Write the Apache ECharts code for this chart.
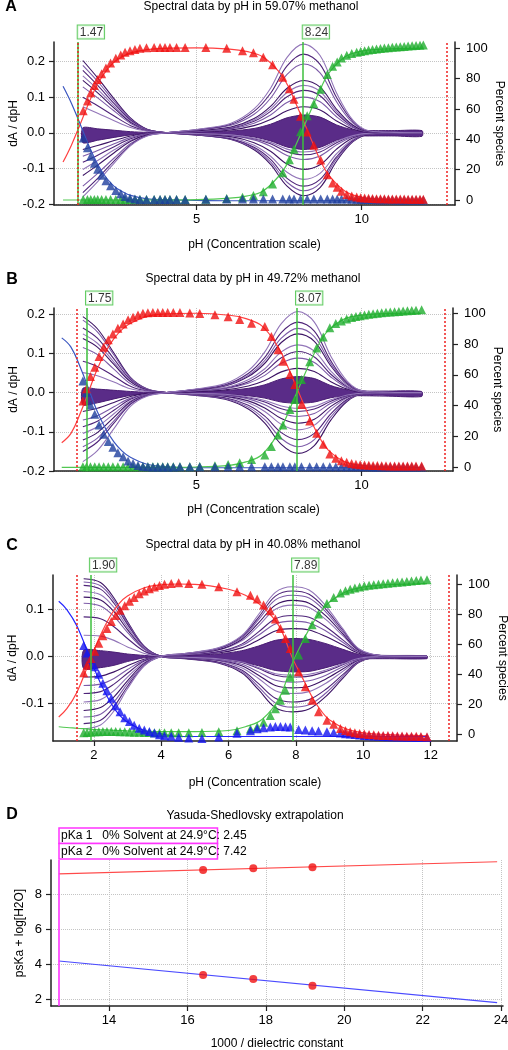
<!DOCTYPE html>
<html><head><meta charset="utf-8">
<script src="https://cdn.jsdelivr.net/npm/echarts@6/dist/echarts.min.js"></script>
<style>html,body{margin:0;padding:0;background:#fff}#c{width:508px;height:1050px}</style>
</head><body><div id="c"></div>
<script>
// ---------------- Panel A (59.07% methanol) ----------------
const titleA = 'Spectral data by pH in 59.07% methanol';
const pkaTextA = ['1.47', '8.24'];
const pkaLineA = [1.41, 8.23];
const limitLineA = [1.40, 12.58];
const specPhA = [1.55,2.0,2.5,3.0,3.5,4.1,5.04,6.04,6.74,7.24,7.74,8.24,8.74,9.24,9.74,10.24,10.99,11.83];
const specA = [
 [0.203,0.154,0.095,0.041,0.010,0,-0.007,-0.019,-0.048,-0.089,-0.150,-0.177,-0.154,-0.080,-0.025,-0.004,-0.001,0],
 [0.189,0.144,0.089,0.038,0.009,0,-0.007,-0.018,-0.044,-0.082,-0.139,-0.163,-0.142,-0.073,-0.023,-0.003,-0.001,0],
 [0.175,0.133,0.082,0.035,0.009,0,-0.006,-0.017,-0.041,-0.075,-0.128,-0.150,-0.131,-0.068,-0.021,-0.003,-0.001,0],
 [0.160,0.122,0.075,0.032,0.008,0,-0.005,-0.014,-0.035,-0.066,-0.111,-0.131,-0.114,-0.059,-0.018,-0.003,-0.001,0],
 [0.147,0.112,0.069,0.029,0.007,0,-0.004,-0.011,-0.028,-0.052,-0.088,-0.103,-0.090,-0.046,-0.014,-0.002,0,0],
 [0.129,0.098,0.061,0.026,0.006,0,-0.003,-0.008,-0.020,-0.038,-0.064,-0.075,-0.065,-0.034,-0.011,-0.002,0,0],
 [0.100,0.076,0.047,0.020,0.005,0,-0.002,-0.007,-0.017,-0.031,-0.053,-0.062,-0.054,-0.028,-0.009,-0.001,0,0],
 [0.073,0.055,0.034,0.015,0.004,0,-0.002,-0.006,-0.015,-0.027,-0.046,-0.054,-0.047,-0.024,-0.008,-0.001,0,0],
 [-0.047,-0.036,-0.022,-0.009,-0.002,0,0.003,0.008,0.020,0.037,0.062,0.073,0.064,0.033,0.010,0.001,0,0],
 [-0.066,-0.050,-0.031,-0.013,-0.003,0,0.004,0.011,0.027,0.050,0.085,0.100,0.087,0.045,0.014,0.002,0,0],
 [-0.083,-0.063,-0.039,-0.017,-0.004,0,0.005,0.013,0.032,0.060,0.101,0.119,0.104,0.054,0.017,0.002,0,0],
 [-0.103,-0.078,-0.048,-0.021,-0.005,0,0.005,0.015,0.036,0.067,0.113,0.133,0.116,0.060,0.019,0.003,0.001,0],
 [-0.120,-0.091,-0.056,-0.024,-0.006,0,0.006,0.016,0.040,0.074,0.125,0.147,0.128,0.066,0.021,0.003,0.001,0],
 [-0.150,-0.114,-0.071,-0.030,-0.008,0,0.008,0.021,0.052,0.097,0.164,0.193,0.168,0.087,0.027,0.004,0.001,0],
 [-0.168,-0.128,-0.079,-0.034,-0.008,0,0.009,0.024,0.060,0.111,0.188,0.221,0.192,0.099,0.031,0.004,0.001,0],
 [-0.180,-0.137,-0.085,-0.036,-0.009,0,0.010,0.027,0.067,0.125,0.212,0.249,0.217,0.112,0.035,0.005,0.001,0]
];
const bandUpA = [0.014,0.011,0.007,0.003,0.001,0,0.002,0.005,0.012,0.024,0.042,0.050,0.044,0.022,0.008,0.006,0.006,0.006];
const bandLoA = [-0.028,-0.021,-0.013,-0.006,-0.002,0,-0.002,-0.005,-0.012,-0.023,-0.040,-0.047,-0.041,-0.021,-0.010,-0.009,-0.009,-0.010];
const phA = [1.56,1.69,1.79,1.90,2.00,2.12,2.25,2.39,2.55,2.70,
 2.83,2.98,3.13,3.28,3.48,3.71,3.89,4.04,4.19,4.39,
 4.65,5.28,5.91,6.39,6.72,7.02,7.30,7.61,7.81,7.95,
 8.15,8.35,8.55,8.76,8.96,9.12,9.26,9.39,9.55,9.70,
 9.85,9.97,10.09,10.21,10.33,10.45,10.57,10.69,10.81,10.93,
 11.05,11.17,11.29,11.41,11.53,11.65,11.77,11.87];
const redA = [58.8,65.3,70.8,75.5,79.4,83.3,87.0,90.3,93.5,95.6,
 97.4,98.4,99.3,100.0,100.4,100.6,100.6,100.6,100.6,100.6,
 100.6,100.6,100.0,98.4,97.1,94.1,89.2,80.9,73.4,66.4,
 55.2,44.8,36.1,26.4,16.6,11.2,8.4,5.8,3.6,2.6,
 1.9,1.5,1.3,1.1,1.0,0.9,0.8,0.8,0.7,0.7,
 0.6,0.6,0.6,0.5,0.5,0.5,0.5,0.5];
const greenA = [0.3,0.3,0.3,0.3,0.3,0.3,0.3,0.3,0.3,0.3,
 0.3,0.3,0.3,0.3,0.3,0.3,0.3,0.3,0.3,0.3,
 0.3,0.5,1.0,1.8,3.0,5.5,10.5,18,26.5,33.5,
 45,55.5,63.5,73,82.8,88.2,91,93.6,95.5,96.6,
 97.5,98.0,98.5,99.0,99.3,99.6,99.9,100.2,100.4,100.7,
 100.9,101.1,101.3,101.5,101.7,101.9,102.1,102.3];
const blueA = [40.9,34.4,28.9,24.2,20.3,16.4,12.7,9.4,6.2,4.1,
 2.3,1.3,0.7,0.4,0.3,0.3,0.3,0.3,0.3,0.3,
 0.3,0.5,0.6,0.6,0.6,0.6,0.6,0.6,0.6,0.6,
 0.6,0.6,0.6,0.6,0.6,0.6,0.6,0.6,0.6,0.5,
 0.5,0.4,0.4,0.3,0.3,0.2,0.2,0.1,0.1,0.1,
 0,0,0,0,0,0,0,0];
const fitPhA = [0.95,1.2,1.47,1.75,2.0,2.25,2.5,2.75,3.0,3.5,4.0,5.0,6.0,6.5,7.0,7.5,7.75,8.0,8.24,8.5,8.75,9.0,9.5,10.0,10.5,11.0,11.87];
const redFitA = [25,36,50,65,76.5,85,91,94.5,97,99.2,100,100.3,99.5,98,94.5,84.5,76,64,52,38.5,26,16.5,5.8,1.8,0.6,0.2,0];
const blueFitA = [75,64,50,35,23.5,15,9,5.5,3,0.8,0.2,-0.3,-0.5,-0.5,-0.5,-0.5,-0.5,-0.5,-0.5,-0.5,-0.5,-0.5,-0.5,-0.5,-0.5,-0.5,-0.5];
const greenFitA = [0,0,0,0,0,0,0,0,0,0,0,0.2,1.2,2.6,5.8,16,24,36,48,61,73,83.5,94.5,98.2,99.4,99.8,100];

// ---------------- Panel B (49.72% methanol) ----------------
const titleB = 'Spectral data by pH in 49.72% methanol';
const pkaTextB = ['1.75', '8.07'];
const pkaLineB = [1.67, 8.03];
const limitLineB = [1.39, 12.52];
const specPhB = [1.56,2.0,2.5,3.0,3.5,4.1,4.87,5.87,6.57,7.07,7.57,8.07,8.57,9.07,9.57,10.07,10.82,11.82];
const specB = [
 [0.194,0.163,0.101,0.039,0.010,0,-0.006,-0.017,-0.042,-0.078,-0.132,-0.155,-0.135,-0.070,-0.022,-0.003,-0.001,0],
 [0.185,0.155,0.096,0.037,0.009,0,-0.006,-0.015,-0.037,-0.069,-0.117,-0.138,-0.120,-0.062,-0.019,-0.003,-0.001,0],
 [0.165,0.139,0.086,0.033,0.008,0,-0.005,-0.013,-0.032,-0.060,-0.102,-0.120,-0.104,-0.054,-0.017,-0.002,0,0],
 [0.150,0.126,0.078,0.030,0.008,0,-0.004,-0.010,-0.026,-0.048,-0.081,-0.095,-0.083,-0.043,-0.013,-0.002,0,0],
 [0.138,0.116,0.072,0.028,0.007,0,-0.003,-0.009,-0.021,-0.039,-0.066,-0.078,-0.068,-0.035,-0.011,-0.002,0,0],
 [0.115,0.097,0.060,0.023,0.006,0,-0.002,-0.007,-0.016,-0.031,-0.052,-0.061,-0.053,-0.027,-0.009,-0.001,0,0],
 [0.080,0.067,0.042,0.016,0.004,0,-0.002,-0.005,-0.013,-0.024,-0.041,-0.048,-0.042,-0.022,-0.007,-0.001,0,0],
 [0.051,0.043,0.027,0.010,0.003,0,-0.002,-0.004,-0.011,-0.020,-0.034,-0.040,-0.035,-0.018,-0.006,-0.001,0,0],
 [-0.048,-0.040,-0.025,-0.010,-0.002,0,0.002,0.007,0.017,0.031,0.053,0.062,0.054,0.028,0.009,0.001,0,0],
 [-0.070,-0.059,-0.036,-0.014,-0.004,0,0.004,0.010,0.024,0.044,0.075,0.088,0.077,0.040,0.012,0.002,0,0],
 [-0.087,-0.073,-0.045,-0.017,-0.004,0,0.004,0.012,0.028,0.053,0.089,0.105,0.091,0.047,0.015,0.002,0,0],
 [-0.104,-0.087,-0.054,-0.021,-0.005,0,0.005,0.013,0.033,0.061,0.104,0.122,0.106,0.055,0.017,0.002,0,0],
 [-0.121,-0.102,-0.063,-0.024,-0.006,0,0.006,0.017,0.041,0.075,0.128,0.150,0.131,0.068,0.021,0.003,0.001,0],
 [-0.138,-0.116,-0.072,-0.028,-0.007,0,0.007,0.018,0.044,0.082,0.139,0.164,0.143,0.074,0.023,0.003,0.001,0],
 [-0.150,-0.126,-0.078,-0.030,-0.008,0,0.007,0.020,0.049,0.090,0.153,0.180,0.157,0.081,0.025,0.004,0.001,0],
 [-0.176,-0.148,-0.092,-0.035,-0.009,0,0.008,0.023,0.056,0.104,0.176,0.207,0.180,0.093,0.029,0.004,0.001,0]
];
const bandUpB = [0.011,0.009,0.006,0.003,0.001,0,0.002,0.005,0.011,0.020,0.035,0.041,0.036,0.018,0.007,0.004,0.004,0.003];
const bandLoB = [-0.031,-0.026,-0.016,-0.007,-0.002,0,-0.002,-0.004,-0.008,-0.014,-0.024,-0.027,-0.024,-0.013,-0.008,-0.008,-0.009,-0.010];
const phB = [1.56,1.67,1.79,1.92,2.05,2.19,2.33,2.47,2.62,2.78,
 2.93,3.08,3.23,3.38,3.53,3.68,3.83,3.98,4.13,4.30,
 4.50,4.80,5.10,5.56,5.96,6.31,6.67,7.07,7.27,7.47,
 7.62,7.83,7.98,8.18,8.43,8.64,8.84,9.04,9.22,9.39,
 9.55,9.70,9.83,9.96,10.09,10.22,10.35,10.48,10.61,10.74,
 10.87,11.00,11.13,11.26,11.39,11.52,11.65,11.82];
const redB = [43,51,59,65,72,78,82.8,86.6,90.3,93,
 95.7,97.4,98.9,100,100.3,100.5,100.5,100.5,100.5,100.5,
 100.4,100.2,99.8,99,97.8,96,93.5,91.4,84.9,76.3,
 68.8,60.2,53.7,40.8,30,22.1,15,8.6,5.8,4.3,
 3.2,2.5,2.0,1.7,1.5,1.3,1.2,1.1,1.0,1.0,
 0.9,0.9,0.9,0.8,0.8,0.8,0.8,0.8];
const greenB = [0.3,0.3,0.3,0.3,0.3,0.3,0.3,0.3,0.3,0.3,
 0.3,0.3,0.3,0.3,0.3,0.3,0.3,0.3,0.3,0.3,
 0.3,0.4,0.6,1.0,1.8,3.0,5.0,8.0,13.5,21,
 27.5,37.5,44,57,68.5,77.5,84.5,90.5,93.3,95,
 96.3,97.2,97.9,98.4,98.9,99.3,99.7,100,100.3,100.6,
 100.8,101,101.2,101.4,101.6,101.8,102,102.2];
const blueB = [56,48.5,40.5,34.5,27.5,21.5,16.8,13,9.4,6.8,
 4.1,2.5,1.2,0.5,0.3,0.2,0.2,0.2,0.2,0.2,
 0.3,0.3,0.4,0.4,0.4,0.4,0.4,0.4,0.4,0.4,
 0.4,0.4,0.4,0.4,0.4,0.4,0.4,0.4,0.4,0.4,
 0.4,0.4,0.3,0.3,0.3,0.3,0.2,0.2,0.2,0.2,
 0.2,0.2,0.2,0.2,0.2,0.2,0.2,0.2];
const fitPhB = [0.92,1.2,1.5,1.75,2.0,2.25,2.5,2.75,3.0,3.5,4.0,5.0,6.0,6.5,7.0,7.5,7.75,8.07,8.25,8.5,8.75,9.0,9.5,10.0,10.5,11.0,11.82];
const redFitB = [16,22,36,50,64,75,83.5,89.5,93.5,98,99.5,100,98.7,96.5,91.5,77,66,50,41,29,18.5,11,3.5,1.2,0.4,0.1,0];
const blueFitB = [84,78,64,50,36,25,16.5,10.5,6.5,2,0.5,-0.3,-0.3,-0.3,-0.3,-0.3,-0.3,-0.3,-0.3,-0.3,-0.3,-0.3,-0.3,-0.3,-0.3,-0.3,-0.3];
const greenFitB = [0,0,0,0,0,0,0,0,0,0,0,0.2,1.3,3.5,8.5,23,34,50,59,71,81.5,89,96.5,98.8,99.6,99.9,100];

// ---------------- Panel C (40.08% methanol) ----------------
const titleC = 'Spectral data by pH in 40.08% methanol';
const pkaTextC = ['1.90', '7.89'];
const pkaLineC = [1.90, 7.90];
const limitLineC = [1.50, 12.53];
const specPhC = [1.7,2.2,2.6,3.0,3.5,4.0,4.69,5.69,6.39,6.89,7.39,7.89,8.39,8.89,9.39,9.89,10.64,11.89];
const specC = [
 [0.165,0.157,0.124,0.074,0.021,0,-0.005,-0.014,-0.035,-0.071,-0.109,-0.118,-0.112,-0.085,-0.047,-0.012,-0.001,0],
 [0.158,0.150,0.119,0.071,0.021,0,-0.004,-0.013,-0.032,-0.065,-0.099,-0.108,-0.103,-0.078,-0.043,-0.011,-0.001,0],
 [0.151,0.143,0.113,0.068,0.020,0,-0.004,-0.012,-0.029,-0.058,-0.089,-0.097,-0.092,-0.070,-0.039,-0.010,-0.001,0],
 [0.138,0.131,0.104,0.062,0.018,0,-0.003,-0.009,-0.024,-0.047,-0.073,-0.079,-0.075,-0.057,-0.032,-0.008,-0.001,0],
 [0.126,0.120,0.095,0.057,0.016,0,-0.003,-0.008,-0.020,-0.040,-0.062,-0.067,-0.064,-0.048,-0.027,-0.007,-0.001,0],
 [0.113,0.107,0.085,0.051,0.015,0,-0.002,-0.007,-0.017,-0.033,-0.051,-0.055,-0.052,-0.040,-0.022,-0.006,-0.001,0],
 [0.084,0.080,0.063,0.038,0.011,0,-0.002,-0.005,-0.013,-0.026,-0.040,-0.044,-0.042,-0.032,-0.018,-0.004,0,0],
 [0.045,0.043,0.034,0.020,0.006,0,-0.002,-0.005,-0.012,-0.024,-0.037,-0.040,-0.038,-0.029,-0.016,-0.004,0,0],
 [-0.044,-0.042,-0.033,-0.020,-0.006,0,0.002,0.007,0.018,0.035,0.054,0.059,0.056,0.042,0.024,0.006,0.001,0],
 [-0.062,-0.059,-0.047,-0.028,-0.008,0,0.003,0.009,0.023,0.045,0.069,0.075,0.071,0.054,0.030,0.008,0.001,0],
 [-0.079,-0.075,-0.059,-0.036,-0.010,0,0.003,0.010,0.026,0.052,0.080,0.087,0.083,0.063,0.035,0.009,0.001,0],
 [-0.097,-0.092,-0.073,-0.044,-0.013,0,0.004,0.013,0.033,0.065,0.100,0.109,0.104,0.078,0.044,0.011,0.001,0],
 [-0.115,-0.109,-0.086,-0.052,-0.015,0,0.005,0.014,0.036,0.071,0.109,0.119,0.113,0.086,0.048,0.012,0.001,0],
 [-0.129,-0.123,-0.097,-0.058,-0.017,0,0.005,0.016,0.039,0.078,0.120,0.130,0.124,0.094,0.052,0.013,0.001,0],
 [-0.143,-0.136,-0.107,-0.064,-0.019,0,0.006,0.017,0.042,0.083,0.128,0.139,0.132,0.100,0.056,0.014,0.001,0],
 [-0.154,-0.146,-0.116,-0.069,-0.020,0,0.006,0.018,0.044,0.089,0.136,0.148,0.141,0.107,0.059,0.015,0.001,0]
];
const bandUpC = [0.013,0.012,0.009,0.005,0.002,0,0.002,0.005,0.012,0.022,0.034,0.038,0.036,0.027,0.015,0.004,0.002,0.001];
const bandLoC = [-0.026,-0.024,-0.019,-0.011,-0.003,0,-0.002,-0.005,-0.012,-0.020,-0.030,-0.033,-0.032,-0.024,-0.014,-0.006,-0.005,-0.005];
const phC = [1.70,1.80,1.91,2.03,2.15,2.27,2.39,2.52,2.65,2.78,
 2.92,3.06,3.20,3.35,3.50,3.65,3.80,3.95,4.10,4.30,
 4.52,4.82,5.21,5.71,6.25,6.65,6.85,7.04,7.24,7.39,
 7.54,7.69,7.83,8.08,8.28,8.48,8.67,8.92,9.12,9.32,
 9.47,9.61,9.75,9.89,10.03,10.17,10.31,10.45,10.59,10.73,
 10.87,11.01,11.15,11.29,11.43,11.57,11.71,11.89];
const redC = [41,46,50.5,55.3,60.5,65.5,70.4,75,79,82.5,
 85.5,88.5,91,93.5,95.3,96.8,98,99,99.8,100.4,
 100.9,100.4,99.8,98.2,94.9,92.5,90,86,82.2,76.7,
 70.4,63.8,57.1,41.6,31.6,22.7,14.9,9.3,6.7,3.8,
 2.5,1.6,1.0,0.5,0.1,-0.2,-0.4,-0.6,-0.8,-0.9,
 -1.0,-1.1,-1.2,-1.3,-1.3,-1.4,-1.5,-1.6];
const greenC = [1.0,1.2,1.4,1.6,1.7,1.8,1.8,1.8,1.8,1.7,
 1.6,1.5,1.4,1.3,1.2,1.1,1.0,1.0,1.0,1.0,
 1.0,1.0,1.2,1.6,2.4,3.5,5.0,8.0,12.5,17,
 22.7,29.3,38,52.7,63.8,72.9,80,87,91,94,
 95.5,96.5,97.3,98,98.6,99.1,99.5,99.9,100.2,100.5,
 100.8,101.1,101.4,101.7,102,102.3,102.6,102.9];
const blueC = [59,54,50,45,40,34,29,24,19,15,
 11,8.5,6,4,2.8,1.8,0.8,-0.4,-1.0,-1.3,
 -2,-2.5,-2.8,-1.8,0.6,2.4,3.6,4.4,4.9,5.1,
 5.2,5.0,4.8,3.1,2.8,2.4,2.2,1.6,1.1,0.8,
 0.4,0.1,-0.2,-0.5,-0.8,-1.0,-1.2,-1.4,-1.5,-1.6,
 -1.7,-1.8,-1.9,-2.0,-2.0,-2.1,-2.1,-2.2];
const fitPhC = [0.96,1.2,1.5,1.9,2.2,2.5,2.75,3.0,3.5,4.0,4.5,5.0,6.0,6.5,7.0,7.5,7.89,8.25,8.5,8.75,9.0,9.5,10.0,10.5,11.0,11.5,11.89];
const redFitC = [11.5,17,28,50,66,79,87,92,97.5,99.5,100,99.8,96.5,92.5,85,72,51,35,24,15.5,9.5,3.5,1,0,-0.5,-0.8,-1];
const blueFitC = [88.5,83,72,50,34,21,13,8,2.5,0.3,-1.5,-1.5,-1.5,-1.5,-1.5,-1.5,-1.5,-1.5,-1.5,-1.5,-1.5,-1.5,-1.5,-1.5,-1.5,-1.5,-1.5];
const greenFitC = [5,4.5,4,3.3,3,2.7,2.5,2.3,2,1.8,1.8,1.8,2.5,5,10,24,47,64,74,82,88,95,98,99.3,99.8,100,100.2];

// ---------------- Panel D (Yasuda-Shedlovsky) ----------------
const titleD = 'Yasuda-Shedlovsky extrapolation';
const ysX = [16.40, 17.68, 19.19];
const ysPka1 = [3.37, 3.14, 2.76];
const ysPka2 = [9.37, 9.47, 9.52];
const ysFitX = [12.72, 23.9];
const ysFit1 = [4.17, 1.79];
const ysFit2 = [9.15, 9.84];
const ysZero = 12.72;
const ysLegend = ['pKa 1   0% Solvent at 24.9°C: 2.45', 'pKa 2   0% Solvent at 24.9°C: 7.42'];

// ---------------- Tick labels ----------------
const ticksPhAB = [5, 10];
const ticksPhC = [2, 4, 6, 8, 10, 12];
const ticksDAB = [-0.2, -0.1, 0, 0.1, 0.2];
const ticksDC = [-0.1, 0, 0.1];
const ticksPct = [0, 20, 40, 60, 80, 100];
const ticksDielX = [14, 16, 18, 20, 22, 24];
const ticksDielY = [2, 4, 6, 8];

// ================= build =================
const FONT = 'Liberation Sans, Arial, Helvetica, sans-serif';
const AX = '#222';
const PURPLES = ['#3d1465', '#7d5ba8', '#4f2479', '#9275b8'];
const zip = (xs, ys) => xs.map((x, i) => [x, ys[i]]);

function xAx(gi, min, max, ticks, name, gap) {
  return {type:'value', gridIndex:gi, min, max, name, nameLocation:'middle', nameGap:gap, nameMoveOverlap:false,
    nameTextStyle:{fontSize:12, color:'#000', fontFamily:FONT},
    axisLine:{show:true, onZero:false, lineStyle:{color:AX, width:1.5}},
    axisTick:{show:true, length:5, inside:false, customValues:ticks, lineStyle:{color:AX, width:1.2}},
    axisLabel:{show:true, customValues:ticks, fontSize:13, color:'#000', margin:8, fontFamily:FONT},
    splitLine:{show:true, lineStyle:{color:'#c4c4c4', type:'dotted', width:1}}};
}
function yAx(gi, pos, min, max, ticks, name, gap, rot, fmt, grid) {
  return {type:'value', gridIndex:gi, position:pos, min, max, name, nameLocation:'middle', nameGap:gap, nameRotate:rot,
    nameMoveOverlap:false,
    nameTextStyle:{fontSize:12, color:'#000', fontFamily:FONT},
    axisLine:{show:true, onZero:false, lineStyle:{color:AX, width:1.5}},
    axisTick:{show:true, length:5, inside:false, customValues:ticks, lineStyle:{color:AX, width:1.2}},
    axisLabel:{show:true, customValues:ticks, fontSize:13, color:'#000', margin:pos==='left'?9:11, fontFamily:FONT, formatter:fmt},
    splitLine:{show:grid, lineStyle:{color:'#c4c4c4', type:'dotted', width:1}}};
}
const f1 = v => (Math.abs(v) < 1e-9 ? 0 : v).toFixed(1);
const fi = v => String(Math.round(v));

function panel(xi, yl, yr, P) {
  const s = [];
  s.push({type:'custom', xAxisIndex:xi, yAxisIndex:yl, coordinateSystem:'cartesian2d', clip:true, silent:true, z:2,
    data:[[P.specPh[0], 0]],
    renderItem:(params, api) => {
      const pts = [];
      P.specPh.forEach((x, i) => pts.push(api.coord([x, P.up[i]])));
      for (let i = P.specPh.length - 1; i >= 0; i--) pts.push(api.coord([P.specPh[i], P.lo[i]]));
      return {type:'polygon', shape:{points:pts, smooth:0.25}, style:{fill:'#5a2c88', stroke:'#4a1d74', lineWidth:1}};
    }});
  P.spec.forEach((c, k) => s.push({type:'line', xAxisIndex:xi, yAxisIndex:yl, data:zip(P.specPh, c), smooth:0.35,
    symbol:'none', silent:true, z:2, lineStyle:{color:PURPLES[k % 4], width:1.1}}));
  const fit = (ys, col, ml) => {
    const o = {type:'line', xAxisIndex:xi, yAxisIndex:yr, data:zip(P.fitPh, ys), smooth:0.4, symbol:'none', silent:true, z:3,
      lineStyle:{color:col, width:1.2}};
    if (ml) o.markLine = ml;
    return o;
  };
  s.push(fit(P.redFit, '#ff4040', {silent:true, symbol:['none','none'], label:{show:false}, animation:false,
    data:[
      {xAxis:P.pkaLine[0], lineStyle:{color:'#3cbf3c', type:'solid', width:1.5}},
      {xAxis:P.pkaLine[1], lineStyle:{color:'#3cbf3c', type:'solid', width:1.5}},
      {xAxis:P.limit[0], lineStyle:{color:'#ee2020', type:[2,2], width:1.5}},
      {xAxis:P.limit[1], lineStyle:{color:'#ee2020', type:[2,2], width:1.5}}
    ]}));
  s.push(fit(P.blueFit, P.blueLine));
  s.push(fit(P.greenFit, '#52c852'));
  const tri = (ys, col) => ({type:'scatter', xAxisIndex:xi, yAxisIndex:yr, data:zip(P.ph, ys), symbol:'triangle',
    symbolSize:9, silent:true, z:4, itemStyle:{color:col}});
  s.push(tri(P.green, '#1fae2e'));
  s.push(tri(P.blue, P.blueMark));
  s.push(tri(P.red, '#f01010'));
  s.push({type:'scatter', xAxisIndex:xi, yAxisIndex:yl, clip:false, silent:true, z:6, symbolSize:1,
    itemStyle:{color:'rgba(0,0,0,0)'},
    data:P.pkaLine.map((p, i) => ({value:[p, P.ymax], label:{formatter:P.pkaText[i]}})),
    label:{show:true, position:[0,-16], fontSize:12, fontFamily:FONT, color:'#000', backgroundColor:'#fff',
      borderColor:'#3cbf3c', borderWidth:1, padding:[1,1,0,2]}});
  return s;
}

const PA = {specPh:specPhA, spec:specA, up:bandUpA, lo:bandLoA, ph:phA, red:redA, green:greenA, blue:blueA,
  fitPh:fitPhA, redFit:redFitA, greenFit:greenFitA, blueFit:blueFitA, pkaLine:pkaLineA, pkaText:pkaTextA,
  limit:limitLineA, ymax:0.255, blueLine:'#3a56c0', blueMark:'#1e3f9e'};
const PB = {specPh:specPhB, spec:specB, up:bandUpB, lo:bandLoB, ph:phB, red:redB, green:greenB, blue:blueB,
  fitPh:fitPhB, redFit:redFitB, greenFit:greenFitB, blueFit:blueFitB, pkaLine:pkaLineB, pkaText:pkaTextB,
  limit:limitLineB, ymax:0.216, blueLine:'#3a56c0', blueMark:'#1e3f9e'};
const PC = {specPh:specPhC, spec:specC, up:bandUpC, lo:bandLoC, ph:phC, red:redC, green:greenC, blue:blueC,
  fitPh:fitPhC, redFit:redFitC, greenFit:greenFitC, blueFit:blueFitC, pkaLine:pkaLineC, pkaText:pkaTextC,
  limit:limitLineC, ymax:0.173, blueLine:'#2525ff', blueMark:'#1414f0'};

const series = [].concat(panel(0, 0, 1, PA), panel(1, 2, 3, PB), panel(2, 4, 5, PC));
series.push({type:'line', xAxisIndex:3, yAxisIndex:6, data:zip(ysFitX, ysFit1), symbol:'none', silent:true, z:3,
  lineStyle:{color:'#4a4aff', width:1.2},
  markLine:{silent:true, symbol:['none','none'], label:{show:false}, animation:false,
    data:[{xAxis:ysZero, lineStyle:{color:'#ff33ff', type:'solid', width:1.6}}]}});
series.push({type:'line', xAxisIndex:3, yAxisIndex:6, data:zip(ysFitX, ysFit2), symbol:'none', silent:true, z:3,
  lineStyle:{color:'#ff4a4a', width:1.2}});
series.push({type:'scatter', xAxisIndex:3, yAxisIndex:6, data:zip(ysX, ysPka1).concat(zip(ysX, ysPka2)),
  symbol:'circle', symbolSize:8, silent:true, z:4, itemStyle:{color:'#f01010'}});

const txt = (x, y, t, size, bold, align) => ({type:'text', x, y, z:20, silent:true,
  style:{text:t, fontSize:size, fontWeight:bold ? 'bold' : 'normal', fontFamily:FONT, fill:'#000',
    align:align || 'center', verticalAlign:'middle'}});

const G = (o) => Object.assign({outerBoundsMode:'none', containLabel:false}, o);
const option = {
  animation:false,
  backgroundColor:'#fff',
  textStyle:{fontFamily:FONT},
  grid:[
    G({left:54, right:53, top:42, height:163}),
    G({left:54, right:55, top:308, height:163}),
    G({left:53, right:51, top:575, height:166}),
    G({left:51, right:5, top:860, height:146})
  ],
  xAxis:[
    xAx(0, 0.676, 12.83, ticksPhAB, 'pH (Concentration scale)', 34),
    xAx(1, 0.686, 12.77, ticksPhAB, 'pH (Concentration scale)', 33),
    xAx(2, 0.79, 12.78, ticksPhC, 'pH (Concentration scale)', 36),
    xAx(3, 12.52, 24.05, ticksDielX, '1000 / dielectric constant', 32)
  ],
  yAxis:[
    yAx(0, 'left', -0.203, 0.255, ticksDAB, 'dA / dpH', 34, 90, f1, true),
    yAx(0, 'right', -3.3, 104.2, ticksPct, 'Percent species', 38, -90, fi, false),
    yAx(1, 'left', -0.2, 0.216, ticksDAB, 'dA / dpH', 34, 90, f1, true),
    yAx(1, 'right', -2.4, 103.4, ticksPct, 'Percent species', 38, -90, fi, false),
    yAx(2, 'left', -0.18, 0.173, ticksDC, 'dA / dpH', 34, 90, f1, true),
    yAx(2, 'right', -4.5, 106, ticksPct, 'Percent species', 39, -90, fi, false),
    yAx(3, 'left', 1.6, 9.94, ticksDielY, 'psKa + log[H2O]', 25, 90, fi, true)
  ],
  graphic:[
    txt(11, 7, 'A', 16, true), txt(251, 7, titleA, 12, false),
    txt(12, 280, 'B', 16, true), txt(253, 279, titleB, 12, false),
    txt(12, 546, 'C', 16, true), txt(253, 545, titleC, 12, false),
    txt(12, 815, 'D', 16, true), txt(255, 816, titleD, 12, false),
    {type:'rect', z:19, silent:true, shape:{x:59, y:828, width:158.5, height:15.5}, style:{fill:'#fff', stroke:'#ff33ff', lineWidth:1.5}},
    {type:'rect', z:19, silent:true, shape:{x:59, y:843.5, width:158.5, height:15.5}, style:{fill:'#fff', stroke:'#ff33ff', lineWidth:1.5}},
    txt(61, 836, ysLegend[0], 12, false, 'left'),
    txt(61, 851.5, ysLegend[1], 12, false, 'left')
  ],
  series
};
const chart = echarts.init(document.getElementById('c'), null, {renderer:'canvas'});
chart.setOption(option);
</script></body></html>
